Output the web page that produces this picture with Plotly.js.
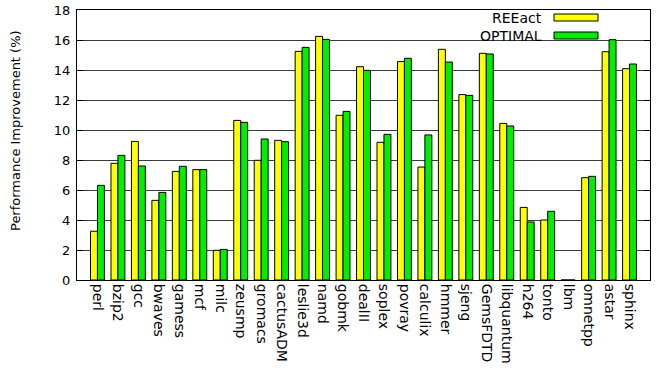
<!DOCTYPE html>
<html>
<head>
<meta charset="utf-8">
<script src="https://cdn.plot.ly/plotly-3.0.1.min.js"></script>
<style>html,body{margin:0;padding:0;background:#fff;}#chart{width:664px;height:377px;}</style>
</head>
<body>
<div id="chart"></div>
<script>
const benchmarks = ["perl","bzip2","gcc","bwaves","gamess","mcf","milc","zeusmp","gromacs","cactusADM","leslie3d","namd","gobmk","dealII","soplex","povray","calculix","hmmer","sjeng","GemsFDTD","libquantum","h264","tonto","lbm","omnetpp","astar","sphinx"];
const reeact  = [3.25,7.78,9.24,5.31,7.24,7.36,1.98,10.64,7.98,9.31,15.24,16.24,10.98,14.22,9.18,14.56,7.53,15.38,12.36,15.11,10.44,4.84,4.00,0,6.82,15.22,14.09];
const optimal = [6.31,8.31,7.60,5.84,7.58,7.36,2.04,10.51,9.40,9.22,15.51,16.04,11.24,13.98,9.71,14.78,9.67,14.53,12.31,15.07,10.27,3.87,4.58,0,6.91,16.02,14.40];
const yTicks = [0,2,4,6,8,10,12,14,16,18];
const seriesNames = ["REEact","OPTIMAL"];
const seriesColors = ["#ffff00","#00ee00"];

const font = "DejaVu Sans, Verdana, sans-serif";
const traces = [reeact, optimal].map((vals, i) => ({
  type: "bar",
  name: seriesNames[i],
  x: benchmarks,
  y: vals,
  marker: {color: seriesColors[i], line: {color: "#000", width: 1}},
  hoverinfo: "x+y+name"
}));

// legend drawn gnuplot-style: text right-aligned, sample box to its right
const L = 77, R = 650, T = 10, B = 280;
const px = v => (v - L) / (R - L);
const py = v => (B - v) / (B - T);
const shapes = [
  {type: "rect", xref: "paper", yref: "paper", layer: "between",
   x0: px(478), x1: px(647), y0: py(44), y1: py(11), fillcolor: "#fff", line: {width: 0}}
];
const annotations = [
  {xref: "paper", yref: "paper", x: px(15), y: py(131), text: "Performance Improvement (%)",
   textangle: -90, showarrow: false, xanchor: "center", yanchor: "middle",
   font: {family: font, size: 13, color: "#000"}}
];
seriesNames.forEach((n, i) => {
  const yc = 17.5 + i * 18;
  annotations.push({xref: "paper", yref: "paper", x: px(544), y: py(yc), text: n,
    showarrow: false, xanchor: "right", yanchor: "middle",
    font: {family: font, size: 14, color: "#000"}});
  shapes.push({type: "rect", xref: "paper", yref: "paper", layer: "above",
    x0: px(554), x1: px(598), y0: py(yc + 3.5), y1: py(yc - 3.5),
    fillcolor: seriesColors[i], line: {color: "#000", width: 1}});
});

const layout = {
  width: 664, height: 377,
  margin: {l: L, r: 664 - R, t: T, b: 377 - B},
  paper_bgcolor: "#fff", plot_bgcolor: "#fff",
  showlegend: false,
  barmode: "group", bargap: 0.32, bargroupgap: 0,
  font: {family: font, size: 13, color: "#000"},
  xaxis: {
    type: "category", range: [-1, 27], tickangle: 90,
    tickfont: {family: font, size: 14, color: "#000"},
    showline: true, linecolor: "#000", linewidth: 1, mirror: true,
    ticks: "", showgrid: false, zeroline: false, fixedrange: true
  },
  yaxis: {
    range: [0, 18], tickvals: yTicks, ticktext: yTicks.map(String),
    tickfont: {family: font, size: 13, color: "#000"},
    showline: true, linecolor: "#000", linewidth: 1, mirror: "ticks",
    ticks: "inside", ticklen: 6, tickcolor: "#000", ticklabelstandoff: 3,
    showgrid: true, gridcolor: "#3a3a3a", gridwidth: 1, zeroline: false,
    fixedrange: true
  },
  shapes: shapes,
  annotations: annotations
};
Plotly.newPlot("chart", traces, layout, {displayModeBar: false, staticPlot: true});
</script>
</body>
</html>
